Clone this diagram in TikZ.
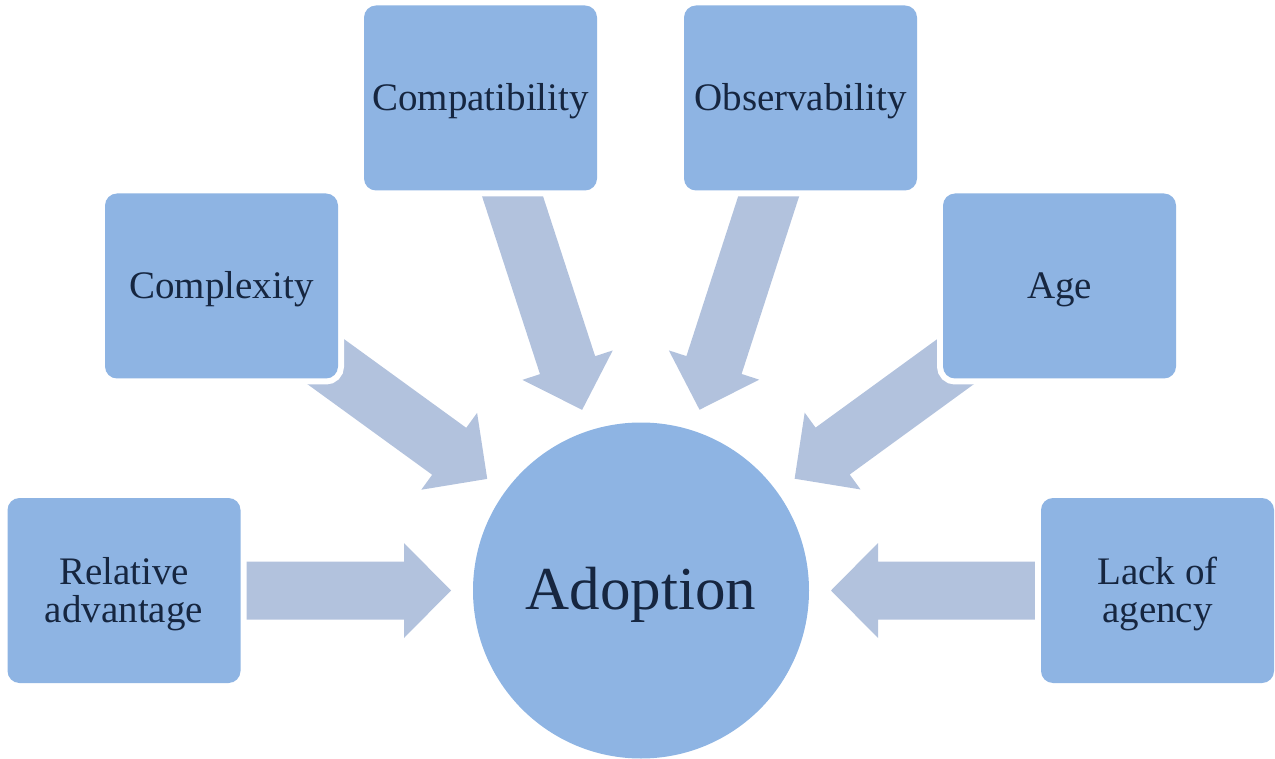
\documentclass[tikz,border=0pt]{standalone}
\usepackage{fontspec}
\setmainfont{Liberation Serif}
\usetikzlibrary{calc}
\pgfdeclarelayer{background}
\pgfsetlayers{background,main}
\definecolor{boxblue}{RGB}{142,180,227}
\definecolor{arrowblue}{RGB}{178,194,221}
\definecolor{navy}{RGB}{22,38,64}
\newcommand\blockarrow[2]{%
  \coordinate (tipp) at ($(#2.center)!190pt!(#1.center)$);
  \coordinate (hb) at ($(tipp)!47pt!(#1.center)$);
  \fill[arrowblue] ($(#1.center)!29pt!90:(tipp)$) -- ($(hb)!29pt!90:(tipp)$)
    -- ($(hb)!47.5pt!90:(tipp)$) -- (tipp) -- ($(hb)!47.5pt!-90:(tipp)$)
    -- ($(hb)!29pt!-90:(tipp)$) -- ($(#1.center)!29pt!-90:(tipp)$) -- cycle;
}
\tikzset{
  factor/.style={rectangle, rounded corners=12pt, minimum width=233pt,
    minimum height=185pt, inner sep=0pt, fill=boxblue, text=navy,
    font=\fontsize{39}{38}\selectfont, align=center,
    preaction={draw=white, line width=12pt}},
  oneline/.style={text height=27pt, text depth=2pt},
  twoline/.style={text depth=2pt},
  centre/.style={circle, minimum size=336pt, inner sep=0pt, fill=boxblue,
    text=navy, font=\fontsize{61}{70}\selectfont, text height=42pt, text depth=5pt}
}
\begin{document}
\begin{tikzpicture}[x=1pt,y=-1pt]
\useasboundingbox (0,0) rectangle (1275,759);
\node[centre] (adopt) at (641,590.5) {Adoption};
\node[factor, twoline] (rel) at (124,590.5) {Relative\\advantage};
\node[factor, oneline] (cplx) at (221.5,286) {Complexity};
\node[factor, oneline] (compat) at (480.5,98) {Compatibility};
\node[factor, oneline] (obs) at (800.5,98) {Observability};
\node[factor, oneline] (age) at (1059.5,286) {Age};
\node[factor, twoline] (lack) at (1157.5,590.5) {Lack of\\agency};
\begin{pgfonlayer}{background}
\blockarrow{rel}{adopt}
\blockarrow{cplx}{adopt}
\blockarrow{compat}{adopt}
\blockarrow{obs}{adopt}
\blockarrow{age}{adopt}
\blockarrow{lack}{adopt}
\end{pgfonlayer}
\end{tikzpicture}
\end{document}
